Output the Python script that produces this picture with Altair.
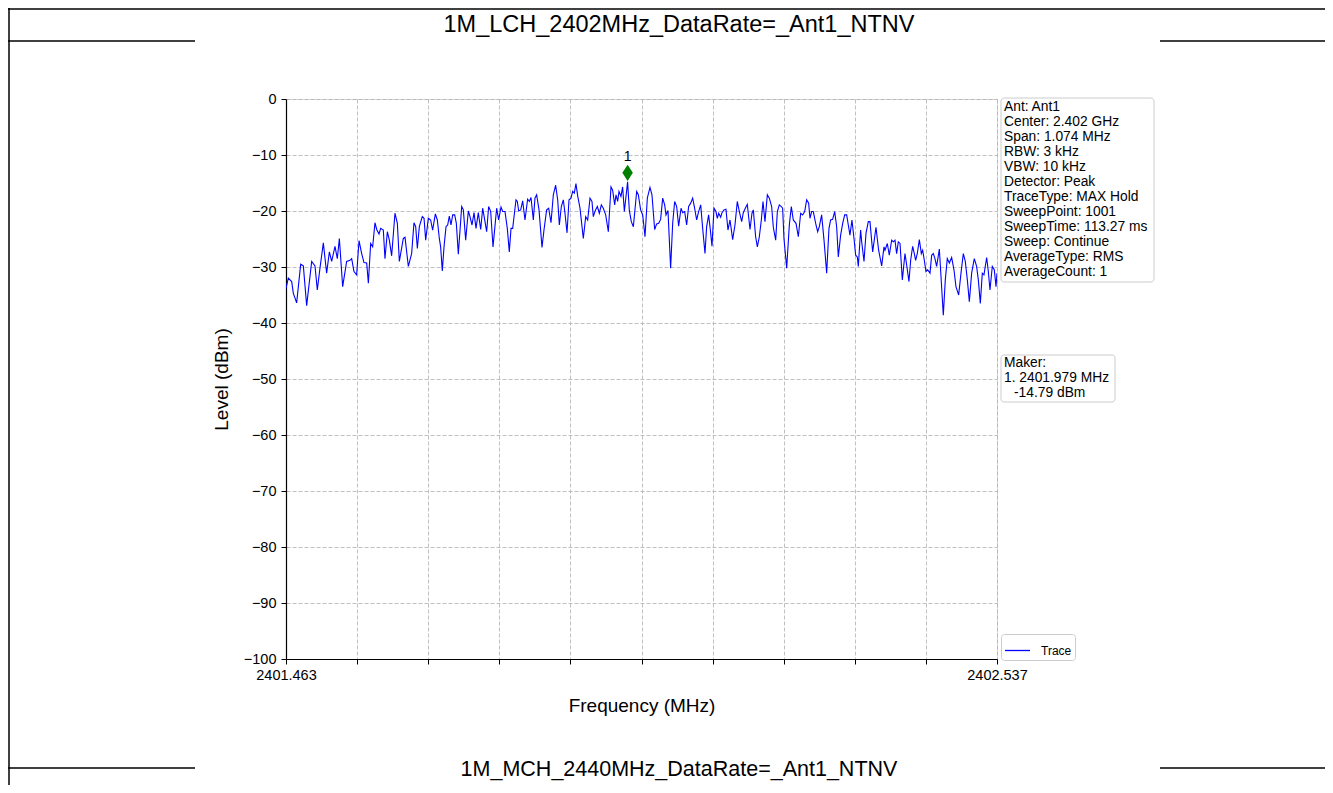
import altair as alt
import pandas as pd

# ---------------- data ----------------
freq_mhz = [
    2401.4630, 2401.4665, 2401.4716, 2401.4741, 2401.4791, 2401.4852, 2401.4892, 2401.4942,
    2401.5018, 2401.5068, 2401.5103, 2401.5144, 2401.5194, 2401.5244, 2401.5285, 2401.5320,
    2401.5370, 2401.5405, 2401.5436, 2401.5486, 2401.5546, 2401.5597, 2401.5622, 2401.5657,
    2401.5697, 2401.5733, 2401.5773, 2401.5808, 2401.5849, 2401.5874, 2401.5909, 2401.5939,
    2401.5974, 2401.6000, 2401.6035, 2401.6060, 2401.6100, 2401.6125, 2401.6161, 2401.6191,
    2401.6226, 2401.6276, 2401.6312, 2401.6342, 2401.6402, 2401.6428, 2401.6478, 2401.6528,
    2401.6563, 2401.6589, 2401.6614, 2401.6644, 2401.6689, 2401.6715, 2401.6740, 2401.6780,
    2401.6815, 2401.6845, 2401.6886, 2401.6916, 2401.6946, 2401.6966, 2401.6991, 2401.7017,
    2401.7047, 2401.7072, 2401.7097, 2401.7122, 2401.7148, 2401.7178, 2401.7203, 2401.7233,
    2401.7284, 2401.7309, 2401.7344, 2401.7384, 2401.7409, 2401.7440, 2401.7470, 2401.7500,
    2401.7535, 2401.7571, 2401.7601, 2401.7636, 2401.7661, 2401.7691, 2401.7722, 2401.7757,
    2401.7812, 2401.7842, 2401.7878, 2401.7903, 2401.7938, 2401.7973, 2401.8003, 2401.8029,
    2401.8054, 2401.8104, 2401.8124, 2401.8145, 2401.8175, 2401.8205, 2401.8240, 2401.8280,
    2401.8306, 2401.8331, 2401.8366, 2401.8391, 2401.8416, 2401.8452, 2401.8497, 2401.8527,
    2401.8567, 2401.8598, 2401.8633, 2401.8668, 2401.8703, 2401.8734, 2401.8759, 2401.8789,
    2401.8819, 2401.8844, 2401.8875, 2401.8905, 2401.8935, 2401.8960, 2401.8985, 2401.9010,
    2401.9036, 2401.9071, 2401.9121, 2401.9157, 2401.9187, 2401.9222, 2401.9252, 2401.9272,
    2401.9302, 2401.9333, 2401.9363, 2401.9393, 2401.9423, 2401.9459, 2401.9499, 2401.9539,
    2401.9564, 2401.9595, 2401.9615, 2401.9640, 2401.9660, 2401.9690, 2401.9715, 2401.9741,
    2401.9790, 2401.9816, 2401.9846, 2401.9877, 2401.9927, 2401.9952, 2401.9987, 2402.0018,
    2402.0053, 2402.0088, 2402.0128, 2402.0158, 2402.0199, 2402.0229, 2402.0259, 2402.0289,
    2402.0320, 2402.0350, 2402.0370, 2402.0400, 2402.0440, 2402.0471, 2402.0501, 2402.0531,
    2402.0561, 2402.0597, 2402.0622, 2402.0652, 2402.0682, 2402.0712, 2402.0743, 2402.0773,
    2402.0798, 2402.0833, 2402.0863, 2402.0894, 2402.0924, 2402.0959, 2402.0984, 2402.1014,
    2402.1040, 2402.1065, 2402.1095, 2402.1125, 2402.1145, 2402.1166, 2402.1196, 2402.1216,
    2402.1246, 2402.1276, 2402.1306, 2402.1337, 2402.1377, 2402.1412, 2402.1447, 2402.1478,
    2402.1513, 2402.1538, 2402.1568, 2402.1598, 2402.1639, 2402.1669, 2402.1689, 2402.1724,
    2402.1750, 2402.1780, 2402.1810, 2402.1835, 2402.1865, 2402.1901, 2402.1931, 2402.1966,
    2402.1991, 2402.2027, 2402.2052, 2402.2082, 2402.2112, 2402.2132, 2402.2152, 2402.2193,
    2402.2233, 2402.2263, 2402.2293, 2402.2334, 2402.2369, 2402.2404, 2402.2434, 2402.2465,
    2402.2495, 2402.2525, 2402.2545, 2402.2570, 2402.2595, 2402.2636, 2402.2661, 2402.2686,
    2402.2721, 2402.2757, 2402.2797, 2402.2832, 2402.2857, 2402.2887, 2402.2918, 2402.2948,
    2402.2973, 2402.3008, 2402.3039, 2402.3069, 2402.3099, 2402.3124, 2402.3149, 2402.3179,
    2402.3210, 2402.3235, 2402.3260, 2402.3275, 2402.3310, 2402.3326, 2402.3361, 2402.3391,
    2402.3426, 2402.3451, 2402.3492, 2402.3542, 2402.3582, 2402.3628, 2402.3663, 2402.3678,
    2402.3713, 2402.3743, 2402.3779, 2402.3804, 2402.3829, 2402.3854, 2402.3879, 2402.3905,
    2402.3940, 2402.3980, 2402.4005, 2402.4040, 2402.4066, 2402.4096, 2402.4121, 2402.4141,
    2402.4166, 2402.4197, 2402.4227, 2402.4247, 2402.4272, 2402.4297, 2402.4322, 2402.4358,
    2402.4383, 2402.4408, 2402.4433, 2402.4458, 2402.4499, 2402.4524, 2402.4559, 2402.4589,
    2402.4619, 2402.4650, 2402.4685, 2402.4720, 2402.4750, 2402.4791, 2402.4826, 2402.4861,
    2402.4891, 2402.4922, 2402.4952, 2402.4987, 2402.5027, 2402.5062, 2402.5088, 2402.5118,
    2402.5148, 2402.5173, 2402.5214, 2402.5239, 2402.5264, 2402.5299, 2402.5329, 2402.5355,
    2402.5370,
]

level_dbm = [
    -33.8, -32.0, -32.6, -34.7, -36.4, -29.5, -29.8, -36.9,
    -29.0, -29.8, -34.1, -30.1, -25.7, -31.1, -27.3, -29.0,
    -26.3, -28.5, -24.9, -33.5, -29.0, -28.8, -28.5, -30.8,
    -31.4, -25.3, -27.6, -29.2, -29.3, -32.9, -25.8, -26.4,
    -22.1, -23.3, -24.1, -23.1, -23.4, -28.5, -23.7, -25.2,
    -28.0, -20.4, -22.2, -29.0, -24.9, -24.7, -29.9, -27.6,
    -22.1, -22.8, -26.7, -22.8, -21.0, -21.3, -25.2, -21.3,
    -21.6, -23.4, -20.5, -21.6, -24.9, -26.4, -30.7, -26.4,
    -22.8, -22.5, -20.9, -22.5, -20.7, -20.7, -22.2, -27.7,
    -19.2, -19.8, -25.2, -20.0, -21.0, -22.5, -20.3, -23.1,
    -20.3, -23.3, -19.5, -21.9, -23.7, -19.2, -20.1, -26.4,
    -19.5, -21.6, -19.3, -20.1, -20.1, -23.1, -27.3, -23.1,
    -23.1, -18.0, -18.3, -20.0, -19.8, -18.2, -21.6, -17.9,
    -18.3, -17.6, -21.6, -17.7, -17.1, -19.8, -26.5, -23.4,
    -19.8, -19.5, -22.1, -17.1, -15.4, -18.0, -22.5, -19.2,
    -18.0, -20.4, -23.9, -18.0, -17.7, -16.5, -16.8, -15.1,
    -17.3, -19.5, -24.9, -21.0, -21.6, -17.7, -18.3, -21.0,
    -19.9, -19.2, -20.4, -18.9, -19.5, -20.7, -23.7, -15.7,
    -16.3, -18.9, -17.1, -18.3, -16.5, -17.4, -15.7, -20.1,
    -14.79, -19.9, -21.9, -22.8, -16.5, -17.1, -19.8, -20.7,
    -24.6, -17.7, -15.8, -17.1, -23.3, -22.3, -22.2, -21.5,
    -17.7, -18.9, -20.7, -19.9, -30.2, -22.2, -18.3, -19.2,
    -22.7, -19.5, -20.3, -20.1, -22.5, -19.2, -18.6, -17.7,
    -19.2, -21.6, -20.1, -18.9, -23.1, -27.6, -22.8, -20.7,
    -23.4, -26.3, -19.5, -20.1, -21.3, -20.4, -21.1, -20.3,
    -19.8, -19.7, -23.4, -21.6, -25.1, -22.5, -18.3, -20.1,
    -21.9, -20.3, -19.5, -18.8, -23.3, -20.4, -19.8, -24.6,
    -26.4, -24.6, -21.6, -18.3, -21.9, -17.1, -17.7, -19.2,
    -22.9, -25.2, -20.1, -18.9, -19.2, -19.5, -24.9, -30.2,
    -22.5, -19.2, -21.6, -22.2, -24.6, -20.4, -20.7, -20.1,
    -18.0, -18.6, -21.3, -20.1, -20.1, -22.5, -23.7, -22.8,
    -20.7, -25.2, -31.1, -23.1, -21.6, -21.5, -20.1, -22.8,
    -28.2, -24.3, -22.2, -20.7, -20.7, -22.5, -24.3, -21.6,
    -24.9, -27.9, -28.2, -29.9, -23.4, -25.5, -29.0, -24.0,
    -21.9, -21.9, -27.3, -22.9, -27.0, -29.8, -26.4, -27.0,
    -25.8, -27.9, -25.2, -25.5, -25.2, -27.6, -25.5, -25.8,
    -32.3, -27.6, -29.6, -32.6, -28.8, -26.3, -27.6, -28.8,
    -27.6, -25.1, -27.6, -27.0, -28.8, -30.8, -30.5, -31.1,
    -27.9, -27.6, -28.5, -29.9, -26.8, -31.7, -38.6, -32.3,
    -28.5, -29.3, -28.3, -30.5, -33.5, -35.0, -31.1, -27.6,
    -29.0, -32.3, -36.2, -31.1, -28.5, -29.9, -32.3, -36.5,
    -31.1, -31.4, -28.3, -30.8, -34.1, -29.9, -30.5, -33.5,
    -31.1,
]

series_name = ["Trace"]
marker_freq = [2401.979]
marker_level = [-14.79]
marker_label = ["1"]

x_domain = [2401.463, 2402.537]
y_domain = [-100, 0]
x_tick_values = [2401.463, 2401.5704, 2401.6778, 2401.7852, 2401.8926, 2402.0,
                 2402.1074, 2402.2148, 2402.3222, 2402.4296, 2402.537]
y_tick_values = [0, -10, -20, -30, -40, -50, -60, -70, -80, -90, -100]

info_lines = ["Ant: Ant1", "Center: 2.402 GHz", "Span: 1.074 MHz", "RBW: 3 kHz",
              "VBW: 10 kHz", "Detector: Peak", "TraceType: MAX Hold", "SweepPoint: 1001",
              "SweepTime: 113.27 ms", "Sweep: Continue", "AverageType: RMS", "AverageCount: 1"]
marker_lines = ["Maker:", "1. 2401.979 MHz"]
marker_value_line = ["-14.79 dBm"]
title_top = "1M_LCH_2402MHz_DataRate=_Ant1_NTNV"
title_next = "1M_MCH_2440MHz_DataRate=_Ant1_NTNV"

FONT = "Liberation Sans, Arial, sans-serif"

# ---------------- chart ----------------
trace_df = pd.DataFrame({"freq": freq_mhz, "level": level_dbm,
                         "series": series_name * len(freq_mhz)})
marker_df = pd.DataFrame({"freq": marker_freq, "level": marker_level, "label": marker_label})
one = pd.DataFrame({"k": [0]})

x_scale = alt.Scale(domain=x_domain, nice=False, zero=False)
y_scale = alt.Scale(domain=y_domain, nice=False, zero=False)

x_axis = alt.Axis(
    values=x_tick_values,
    labelExpr="(datum.value < 2401.47 || datum.value > 2402.53) ? format(datum.value, '.3f') : ''",
    title="Frequency (MHz)", titleFontSize=19, titleFont=FONT, titleFontWeight="normal",
    titleColor="black", titlePadding=15,
    labelFontSize=14.5, labelFont=FONT, labelColor="black", labelPadding=4,
    labelFlush=False, labelOverlap=False,
    tickColor="black", tickSize=5, tickWidth=1,
    domainColor="black", domainWidth=1.2,
    grid=True, gridColor="#b0b0b0", gridDash=[4, 2], gridWidth=0.8,
)
y_axis = alt.Axis(
    values=y_tick_values,
    labelExpr="replace(format(datum.value, 'd'), '-', '\u2212')",
    title="Level (dBm)", titleFontSize=19, titleFont=FONT, titleFontWeight="normal",
    titleColor="black", titlePadding=12,
    labelFontSize=14.5, labelFont=FONT, labelColor="black", labelPadding=5,
    labelFlush=False, labelOverlap=False,
    tickColor="black", tickSize=5, tickWidth=1,
    domainColor="black", domainWidth=1.2,
    grid=True, gridColor="#b0b0b0", gridDash=[4, 2], gridWidth=0.8,
)

trace = alt.Chart(trace_df).mark_line(strokeWidth=1.1, clip=True).encode(
    x=alt.X("freq:Q", scale=x_scale, axis=x_axis),
    y=alt.Y("level:Q", scale=y_scale, axis=y_axis),
    color=alt.Color(
        "series:N",
        scale=alt.Scale(domain=series_name, range=["#0000ff"]),
        legend=alt.Legend(
            orient="none", legendX=715, legendY=535, title=None,
            symbolType="stroke", symbolSize=625, symbolStrokeWidth=1.3,
            labelFontSize=12, labelFont=FONT, labelColor="black", labelOffset=10,
            padding=3, strokeColor="#cccccc", fillColor="white", cornerRadius=3,
        ),
    ),
)

diamond = alt.Chart(marker_df).mark_point(
    shape="M0,-1L0.65,0L0,1L-0.65,0Z", filled=True, color="#008000", opacity=1,
    size=260, yOffset=-9,
).encode(x=alt.X("freq:Q", scale=x_scale), y=alt.Y("level:Q", scale=y_scale))

diamond_label = alt.Chart(marker_df).mark_text(
    dy=-25, fontSize=14, font=FONT, color="black"
).encode(x=alt.X("freq:Q", scale=x_scale), y=alt.Y("level:Q", scale=y_scale), text="label:N")


def hline(y, x1, x2, w=1.5):
    return alt.Chart(one).mark_rule(color="black", strokeWidth=w).encode(
        x=alt.value(x1), x2=alt.value(x2), y=alt.value(y))


def vline(x, y1, y2, w=1.5):
    return alt.Chart(one).mark_rule(color="black", strokeWidth=w).encode(
        x=alt.value(x), y=alt.value(y1), y2=alt.value(y2))


def box(x1, x2, y1, y2):
    return alt.Chart(one).mark_rect(fill="white", stroke="#cccccc", strokeWidth=1,
                                    cornerRadius=3).encode(
        x=alt.value(x1), x2=alt.value(x2), y=alt.value(y1), y2=alt.value(y2))


def textblock(lines, x, y, size=13.8, lh=15):
    df = pd.DataFrame({"t": ["\n".join(lines)]})
    return alt.Chart(df).mark_text(align="left", baseline="top", lineBreak="\n",
                                   fontSize=size, font=FONT, color="black",
                                   lineHeight=lh).encode(
        x=alt.value(x), y=alt.value(y), text="t:N")


def label(txt, x, y, size):
    df = pd.DataFrame({"t": [txt]})
    return alt.Chart(df).mark_text(align="center", baseline="middle", fontSize=size,
                                   font=FONT, color="black").encode(
        x=alt.value(x), y=alt.value(y), text="t:N")


decor = [
    hline(-90, -278, 1040),
    vline(-277, -91, 700),
    hline(-58, -278, -91),
    hline(-58, 874, 1040),
    hline(669, -278, -91),
    hline(669, 874, 1040),
    label(title_top, 393, -74, 23.5),
    label(title_next, 393, 671, 21.5),
]

boxes = [
    box(715, 868, -1, 183),
    textblock(info_lines, 718, 1),
    box(715, 829, 256, 303),
    textblock(marker_lines, 718, 257),
    textblock(marker_value_line, 728, 287),
]

chart = alt.layer(*decor, trace, diamond, diamond_label, *boxes).properties(
    width=711, height=560,
    autosize=alt.AutoSizeParams(type="none"),
    padding={"left": 278, "top": 91, "right": 328, "bottom": 126},
).configure_view(stroke="black", strokeWidth=1.2).configure(background="white")

chart.save("out.html", embed_options={"renderer": "svg", "actions": False})
